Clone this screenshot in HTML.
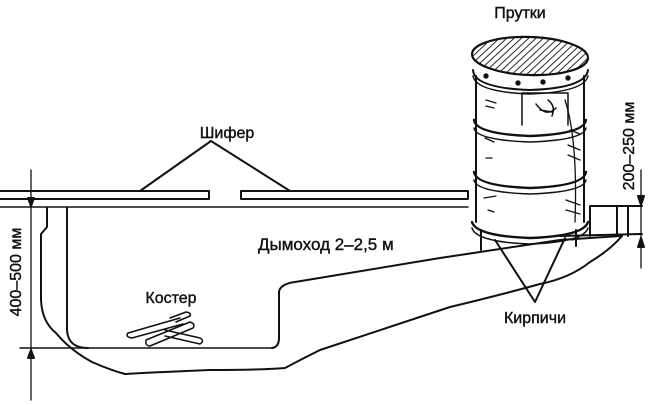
<!DOCTYPE html>
<html><head><meta charset="utf-8"><style>
html,body{margin:0;padding:0;background:#fff;}
svg{display:block;}
text{font-family:"Liberation Sans",sans-serif;fill:#111;stroke:#111;stroke-width:0.4;}
</style></head><body>
<svg width="650" height="405" viewBox="0 0 650 405" xmlns="http://www.w3.org/2000/svg">
<defs>
<pattern id="h" width="5" height="5" patternUnits="userSpaceOnUse" patternTransform="rotate(45)">
<line x1="0" y1="0" x2="0" y2="5" stroke="#111" stroke-width="1.8"/>
</pattern>
</defs>
<g fill="none" stroke="#111" stroke-width="2" stroke-linecap="round" stroke-linejoin="round">
<path d="M0 191 H209 V199 H0"/>
<path d="M241 191 H468 V199 H241 Z"/>
<line x1="0" y1="207" x2="468" y2="207" stroke-width="1.4"/>
<path d="M140 191 L211 141 L290 191"/>
<line x1="31" y1="170" x2="31" y2="400" stroke-width="1.3"/>
<path d="M28 198 L31 206 L34 198 Z" fill="#111"/>
<path d="M28 358 L31 350 L34 358 Z" fill="#111"/>
<line x1="20" y1="348" x2="272" y2="348" stroke-width="1.4"/>
<path d="M67 208 V330 Q68 348 88 348"/>
<path d="M272 348 Q279 347 279 338 V292 Q280 284 295 282 L440 258 L560 240 L620 236"/>
<path d="M47 208 V227 L41 234 V300 Q42 322 56 333 Q70 350 92 362 Q110 370 125 374 Q160 372 210 370 Q260 370 285 368 Q300 360 320 350 Q380 330 450 307 Q500 295 540 284 Q570 278 590 262 Q610 250 622 236"/>
<path d="M590 236 V206 H642"/>
<line x1="617" y1="206" x2="617" y2="236"/>
<line x1="628" y1="206" x2="628" y2="236"/>
<line x1="560" y1="236" x2="642" y2="234"/>
<line x1="641" y1="170" x2="641" y2="268" stroke-width="1.3"/>
<path d="M638 196 L641 205 L644 196 Z" fill="#111"/>
<path d="M638 247 L641 238 L644 247 Z" fill="#111"/>
<line x1="481" y1="230" x2="481" y2="250"/>
<line x1="576" y1="230" x2="576" y2="246"/>
<path d="M495 240 L535 302 L565 238"/>
<path d="M476 76 V222"/>
<path d="M584 76 V222"/>
<path d="M473 70 Q474 88 530 90 Q586 88 588 70"/>
<path d="M473 76 Q476 92 530 94 Q584 92 588 76" stroke-width="1.5"/>
<path d="M474 120 Q476 134 530 136 Q584 134 586 120" stroke-width="2.4"/>
<path d="M474 128 Q476 140 530 142 Q584 140 586 128" stroke-width="1.5"/>
<path d="M474 172 Q476 186 530 188 Q584 186 586 172" stroke-width="2.4"/>
<path d="M474 180 Q476 192 530 194 Q584 192 586 180" stroke-width="1.5"/>
<path d="M472 222 Q476 236 530 238 Q584 236 588 222" stroke-width="2.4"/>
<path d="M472 228 Q476 242 530 244 Q584 242 588 228" stroke-width="1.5"/>
<ellipse cx="530" cy="56" rx="58" ry="19" fill="url(#h)" stroke-width="2.2" transform="rotate(2 530 56)"/>
<path d="M522 125 V93 H568 V125" stroke-width="1.5"/>
<path d="M536 104 Q546 118 556 108 M548 100 Q556 106 552 116 M540 110 L552 112" stroke-width="1.5"/>
<path d="M565 100 Q578 140 575 222 M570 130 L580 134 M568 145 L580 150 M568 155 L580 160 M566 200 L580 205 M566 210 L580 214 M572 240 L580 238" stroke-width="1.3"/>
<path d="M486 100 L496 103 M485 138 L494 142 M486 158 L492 158 M484 198 L496 196 M488 210 L494 212 M486 106 L494 108" stroke-width="1.3"/>
<circle cx="486" cy="76" r="1.7" fill="#111"/><circle cx="518" cy="83" r="1.7" fill="#111"/><circle cx="543" cy="82" r="1.7" fill="#111"/><circle cx="568" cy="78" r="1.7" fill="#111"/>
<path d="M128 333 L180 318 M132 338 L183 324 M128 333 Q125 337 132 338" stroke-width="1.5"/>
<path d="M146 340 L190 322 M150 346 L193 328 M146 340 Q145 346 150 346 M190 322 Q196 324 193 328" stroke-width="1.5"/>
<path d="M165 330 L200 338 M165 336 L200 344 M200 338 Q205 341 200 344" stroke-width="1.5"/>
<path d="M170 318 L186 312 M176 322 L190 316 M186 312 Q192 313 190 316" stroke-width="1.5"/>
</g>
<text x="227" y="138" font-size="16" text-anchor="middle">Шифер</text>
<text x="520" y="18" font-size="16" text-anchor="middle">Прутки</text>
<text x="258" y="250" font-size="17">Дымоход 2–2,5 м</text>
<text x="171" y="303" font-size="16" text-anchor="middle">Костер</text>
<text x="535" y="323" font-size="16" text-anchor="middle">Кирпичи</text>
<text transform="translate(21 272) rotate(-90)" font-size="16" text-anchor="middle">400–500 мм</text>
<text transform="translate(634 146) rotate(-90)" font-size="16" text-anchor="middle">200–250 мм</text>
</svg>
</body></html>
